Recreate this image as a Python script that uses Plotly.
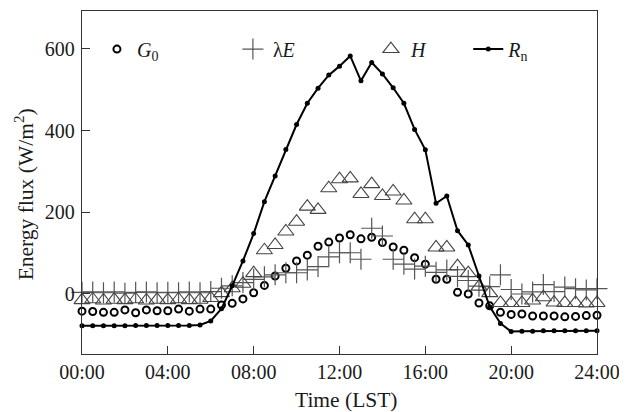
import plotly.graph_objects as go

hours = [0, 0.5, 1, 1.5, 2, 2.5, 3, 3.5, 4, 4.5, 5, 5.5,
         6, 6.5, 7, 7.5, 8, 8.5, 9, 9.5, 10, 10.5, 11, 11.5,
         12, 12.5, 13, 13.5, 14, 14.5, 15, 15.5, 16, 16.5, 17, 17.5,
         18, 18.5, 19, 19.5, 20, 20.5, 21, 21.5, 22, 22.5, 23, 23.5, 24]

g0 = [-42, -43, -45, -45, -39, -46, -39, -41, -41, -37, -42, -37,
      -37, -27, -23, -12, 3, 21, 44, 63, 81, 95, 117, 127,
      137, 145, 135, 139, 126, 115, 107, 89, 73, 36, 36, 4,
      0, -22, -29, -45, -50, -49, -54, -54, -54, -56, -55, -53, -52]

le = [4, 5, 3, 5, 2, 4, 5, 3, 4, 3, 5, 3,
      6, 14, 20, 28, 36, 42, 47, 52, 52, 59, 67, 91,
      101, 101, 85, 161, 142, 85, 73, 61, 68, 53, 59, 43,
      33, 19, 18, 47, 11, 0, 5, 23, 6, 17, 13, 10, 13]

hh = [-15, -13, -16, -14, -15, -13, -16, -14, -15, -13, -15, -14,
      -10, 2, 14, 25, 51, 107, 120, 153, 177, 214, 206, 259,
      281, 283, 245, 269, 240, 251, 229, 183, 183, 114, 114, 68,
      51, 18, 2, -22, -22, -22, -16, -8, -21, -22, -22, -23, -22]

rn = [-78, -78, -78, -78, -78, -77, -77, -77, -77, -77, -77, -76,
      -66, -36, 20, 81, 148, 226, 289, 354, 415, 467, 504, 536,
      558, 583, 522, 567, 539, 505, 467, 403, 353, 222, 240, 155,
      120, 44, -31, -72, -92, -91, -91, -90, -90, -90, -90, -90, -90]

x_ticks = [0, 4, 8, 12, 16, 20, 24]
x_labels = ["00:00", "04:00", "08:00", "12:00", "16:00", "20:00", "24:00"]
y_ticks = [0, 200, 400, 600]

FONT = "'Liberation Serif', 'Times New Roman', Times, 'DejaVu Serif', serif"
TXT = "#1a1a1a"

fig = go.Figure()
fig.add_trace(go.Scatter(
    x=hours, y=g0, mode="markers", name="<i>G</i><sub>0</sub>", legend="legend",
    cliponaxis=False,
    marker=dict(symbol="circle-open", size=7, color="black",
                line=dict(width=2, color="black"))))
fig.add_trace(go.Scatter(
    x=hours, y=le, mode="markers", name="λ<i>E</i>", legend="legend2",
    cliponaxis=False,
    marker=dict(symbol="cross-thin-open", size=15, color="#555",
                line=dict(width=1.2, color="#555"))))
fig.add_trace(go.Scatter(
    x=hours, y=hh, mode="markers", name="<i>H</i>", legend="legend3",
    cliponaxis=False,
    marker=dict(symbol="triangle-up-open", size=14, color="#444",
                line=dict(width=1.1, color="#444"))))
fig.add_trace(go.Scatter(
    x=hours, y=rn, mode="lines+markers", name="<i>R</i><sub>n</sub>", legend="legend4",
    cliponaxis=False,
    line=dict(color="black", width=2),
    marker=dict(symbol="circle", size=5, color="black")))

leg_common = dict(y=0.889, yanchor="middle", xanchor="left",
                  bgcolor="rgba(0,0,0,0)", font=dict(family=FONT, size=20, color=TXT))

# page body has an 8px default margin; the figure is sized/offset to compensate
fig.update_layout(
    width=619, height=404,
    margin=dict(l=74, r=30, t=3, b=58, autoexpand=False),
    plot_bgcolor="white", paper_bgcolor="white",
    font=dict(family=FONT, size=20, color=TXT),
    showlegend=True,
    legend=dict(x=0.029, **leg_common),
    legend2=dict(x=0.293, **leg_common),
    legend3=dict(x=0.561, **leg_common),
    legend4=dict(x=0.750, **leg_common),
    xaxis=dict(range=[0, 24], tickvals=x_ticks, ticktext=x_labels,
               ticks="inside", ticklen=8, tickcolor="#333",
               showline=True, mirror=True, linecolor="#333", linewidth=1.3,
               showgrid=False, zeroline=False,
               tickfont=dict(family=FONT, size=20, color=TXT)),
    yaxis=dict(range=[-147, 693], tickvals=y_ticks,
               ticks="inside", ticklen=8, tickcolor="#333",
               showline=True, mirror=True, linecolor="#333", linewidth=1.3,
               showgrid=False, zeroline=False, ticklabelstandoff=2,
               tickfont=dict(family=FONT, size=20, color=TXT)),
    annotations=[
        dict(text="Energy flux (W/m<sup>2</sup>)", textangle=-90,
             xref="paper", yref="paper", x=-0.111, y=0.465,
             xanchor="center", yanchor="middle", showarrow=False,
             font=dict(family=FONT, size=21.5, color=TXT)),
        dict(text="Time (LST)", xref="paper", yref="paper", x=0.514, y=-0.134,
             xanchor="center", yanchor="middle", showarrow=False,
             font=dict(family=FONT, size=21.5, color=TXT)),
    ],
)

fig.write_html("out.html")
